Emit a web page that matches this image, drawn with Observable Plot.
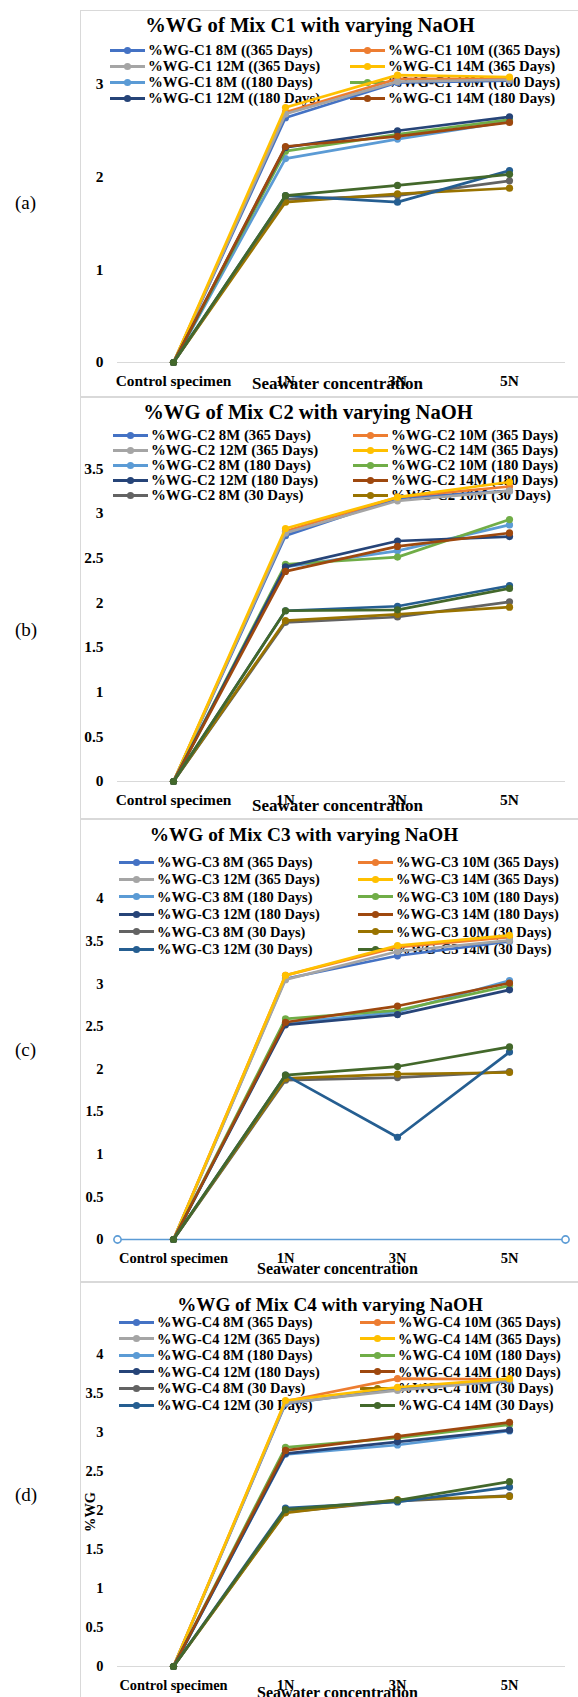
<!DOCTYPE html>
<html><head><meta charset="utf-8">
<script src="https://cdn.jsdelivr.net/npm/d3@7"></script>
<script src="https://cdn.jsdelivr.net/npm/@observablehq/plot@0.6"></script>
<style>
body{margin:0;background:#fff;width:578px;height:1697px;overflow:hidden;position:relative;font-family:"Liberation Serif","Times New Roman",serif;color:#000}
.panel{position:absolute;left:80px;width:520px;border:1px solid #d9d9d9;box-sizing:border-box;background:#fff;overflow:hidden}
.panel svg.plot{position:absolute;left:-1px;top:-1px}
.ttl{position:absolute;font-weight:bold;white-space:nowrap;transform:translate(-50%,-50%)}
.leg{position:absolute;font-weight:bold;white-space:nowrap;transform:translateY(-50%);display:flex;align-items:center}
.leg svg{flex:none;margin-right:3px}
.tag{position:absolute;left:15px;font-size:19px;transform:translateY(-50%)}
</style></head><body>
<script>
const categories = ["Control specimen", "1N", "3N", "5N"];
const seriesColors = ["#4472C4","#ED7D31","#A5A5A5","#FFC000","#5B9BD5","#70AD47","#264478","#9E480E","#636363","#997300","#255E91","#43682B"];

// Mix C1 (series order: 8M,10M,12M,14M 365d; 8M..14M 180d; 8M..14M 30d)
const labelsC1 = ["%WG-C1 8M ((365 Days)","%WG-C1 10M ((365 Days)","%WG-C1 12M ((365 Days)","%WG-C1 14M (365 Days)",
  "%WG-C1 8M ((180 Days)","%WG-C1 10M ((180 Days)","%WG-C1 12M ((180 Days)","%WG-C1 14M (180 Days)"];
const valuesC1 = [
  [0, 2.64, 3.02, 3.04], [0, 2.70, 3.06, 3.06], [0, 2.68, 3.03, 3.05], [0, 2.75, 3.10, 3.08],
  [0, 2.20, 2.41, 2.60], [0, 2.28, 2.46, 2.62], [0, 2.32, 2.50, 2.65], [0, 2.33, 2.44, 2.59],
  [0, 1.76, 1.80, 1.96], [0, 1.73, 1.82, 1.88], [0, 1.80, 1.73, 2.07], [0, 1.80, 1.91, 2.03]
];
// Mix C2
const labelsC2 = ["%WG-C2 8M (365 Days)","%WG-C2 10M (365 Days)","%WG-C2 12M (365 Days)","%WG-C2 14M (365 Days)",
  "%WG-C2 8M (180 Days)","%WG-C2 10M (180 Days)","%WG-C2 12M (180 Days)","%WG-C2 14M (180 Days)",
  "%WG-C2 8M (30 Days)","%WG-C2 10M (30 Days)"];
const valuesC2 = [
  [0, 2.75, 3.17, 3.25], [0, 2.80, 3.18, 3.30], [0, 2.78, 3.14, 3.25], [0, 2.83, 3.18, 3.35],
  [0, 2.40, 2.58, 2.87], [0, 2.43, 2.51, 2.93], [0, 2.40, 2.69, 2.74], [0, 2.35, 2.63, 2.78],
  [0, 1.78, 1.84, 2.01], [0, 1.80, 1.87, 1.95], [0, 1.91, 1.96, 2.19], [0, 1.91, 1.92, 2.16]
];
// Mix C3
const labelsC3 = ["%WG-C3 8M (365 Days)","%WG-C3 10M (365 Days)","%WG-C3 12M (365 Days)","%WG-C3 14M (365 Days)",
  "%WG-C3 8M (180 Days)","%WG-C3 10M (180 Days)","%WG-C3 12M (180 Days)","%WG-C3 14M (180 Days)",
  "%WG-C3 8M (30 Days)","%WG-C3 10M (30 Days)","%WG-C3 12M (30 Days)","%WG-C3 14M (30 Days)"];
const valuesC3 = [
  [0, 3.06, 3.33, 3.50], [0, 3.10, 3.43, 3.55], [0, 3.05, 3.38, 3.51], [0, 3.10, 3.45, 3.57],
  [0, 2.54, 2.67, 3.04], [0, 2.59, 2.69, 2.98], [0, 2.52, 2.64, 2.93], [0, 2.55, 2.74, 3.01],
  [0, 1.87, 1.90, 1.97], [0, 1.89, 1.94, 1.96], [0, 1.93, 1.20, 2.20], [0, 1.93, 2.03, 2.26]
];
// Mix C4
const labelsC4 = ["%WG-C4 8M (365 Days)","%WG-C4 10M (365 Days)","%WG-C4 12M (365 Days)","%WG-C4 14M (365 Days)",
  "%WG-C4 8M (180 Days)","%WG-C4 10M (180 Days)","%WG-C4 12M  (180 Days)","%WG-C4 14M (180 Days)",
  "%WG-C4 8M (30 Days)","%WG-C4 10M  (30 Days)","%WG-C4 12M (30 Days)","%WG-C4 14M  (30 Days)"];
const valuesC4 = [
  [0, 3.37, 3.56, 3.66], [0, 3.40, 3.69, 3.68], [0, 3.38, 3.54, 3.67], [0, 3.41, 3.58, 3.69],
  [0, 2.72, 2.84, 3.02], [0, 2.81, 2.93, 3.10], [0, 2.73, 2.88, 3.03], [0, 2.77, 2.95, 3.13],
  [0, 1.98, 2.12, 2.19], [0, 1.97, 2.14, 2.18], [0, 2.03, 2.11, 2.30], [0, 2.01, 2.13, 2.37]
];
const titles = ["%WG of Mix C1 with varying NaOH","%WG of Mix C2 with varying NaOH","%WG of Mix C3 with varying NaOH","%WG of Mix C4 with varying NaOH"];
const ticksA = [0, 1, 2, 3];
const ticksB = [0, 0.5, 1, 1.5, 2, 2.5, 3, 3.5];
const ticksCD = [0, 0.5, 1, 1.5, 2, 2.5, 3, 3.5, 4];
const xTitle = "Seawater concentration";
const yTitle = "%WG";
const tags = ["(a)", "(b)", "(c)", "(d)"];

// layout
const panels = [
  {tag: 203, top: 10, height: 385, mt: 27.55, mb: 33, ymax: 3.5, ticks: ticksA, fs: 15.4, legFs: 14.8, tFs: 20.6, aFs: 17,
   tcx: 230, tcy: 15, lx: 30, rx: 270, ly: 40, lsp: 16, aDy: 21, labels: labelsC1, values: valuesC1, zero: "gray"},
  {tag: 630, top: 397, height: 420, mt: 26.4, mb: 36, ymax: 4, ticks: ticksB, fs: 15.4, legFs: 14.8, tFs: 20.6, aFs: 17,
   tcx: 228, tcy: 15, lx: 33, rx: 273, ly: 38, lsp: 15, aDy: 24, labels: labelsC2, values: valuesC2, zero: "gray"},
  {tag: 1050, top: 819, height: 461, mt: 36.6, mb: 41, ymax: 4.5, ticks: ticksCD, fs: 14.5, legFs: 14.4, tFs: 19.3, aFs: 16,
   tcx: 224, tcy: 16, lx: 39, rx: 278, ly: 43, lsp: 17.4, aDy: 29, labels: labelsC3, values: valuesC3, zero: "blue"},
  {tag: 1495, top: 1282, height: 415, mt: 33, mb: 31, ymax: 4.5, ticks: ticksCD, fs: 14.4, legFs: 14.4, tFs: 19.1, aFs: 16,
   tcx: 250, tcy: 23, lx: 39, rx: 280, ly: 40, lsp: 16.6, aDy: 26, labels: labelsC4, values: valuesC4, zero: "gray", ylab: true}
];

panels.forEach((cfg, p) => {
  const tag = document.createElement("div");
  tag.className = "tag"; tag.style.top = cfg.tag + "px"; tag.textContent = tags[p];
  document.body.appendChild(tag);

  const div = document.createElement("div");
  div.className = "panel";
  div.style.top = cfg.top + "px";
  div.style.height = (cfg.height + 2) + "px";
  document.body.appendChild(div);

  // legend (under the plot lines)
  cfg.labels.forEach((lab, i) => {
    const row = Math.floor(i / 2), col = i % 2;
    const it = document.createElement("div");
    it.className = "leg";
    it.style.left = ((col ? cfg.rx : cfg.lx) - 1) + "px";
    it.style.top = (cfg.ly + row * cfg.lsp - 1) + "px";
    it.style.fontSize = cfg.legFs + "px";
    const c = seriesColors[i];
    it.innerHTML = `<svg width="35" height="10"><line x1="0" y1="5" x2="35" y2="5" stroke="${c}" stroke-width="3"/><circle cx="17.5" cy="5" r="3.6" fill="${c}"/></svg><span>${lab}</span>`;
    div.appendChild(it);
  });

  const rows = [];
  cfg.values.forEach((vals, s) => vals.forEach((v, i) => rows.push({s, cat: categories[i], v})));

  const marks = [];
  if (cfg.zero === "blue") {
    marks.push(Plot.ruleY([0], {stroke: "#5B9BD5", strokeWidth: 1.6}));
  } else {
    marks.push(Plot.ruleY([0], {stroke: "#d9d9d9", strokeWidth: 1}));
  }
  cfg.values.forEach((vals, s) => {
    const d = rows.filter(r => r.s === s);
    marks.push(Plot.line(d, {x: "cat", y: "v", stroke: seriesColors[s], strokeWidth: 2.7}));
    marks.push(Plot.dot(d, {x: "cat", y: "v", fill: seriesColors[s], r: 3.6}));
  });
  if (cfg.zero === "blue") {
    marks.push(Plot.dot([0], {y: d => d, frameAnchor: "left", r: 3.6, stroke: "#5B9BD5", strokeWidth: 1.6, fill: "#fff"}));
    marks.push(Plot.dot([0], {y: d => d, frameAnchor: "right", r: 3.6, stroke: "#5B9BD5", strokeWidth: 1.6, fill: "#fff"}));
  }
  marks.push(Plot.axisY({ticks: cfg.ticks, tickSize: 0, tickPadding: 14, tickFormat: d => String(d), label: null, fontSize: cfg.fs, fontWeight: "bold"}));
  marks.push(Plot.axisX({tickSize: 0, tickPadding: 13, label: null, fontSize: cfg.fs, fontWeight: "bold"}));
  marks.push(Plot.text([xTitle], {text: d => d, frameAnchor: "bottom", textAnchor: "middle", lineAnchor: "middle", dy: cfg.aDy, dx: -4, fontSize: cfg.aFs, fontWeight: "bold", fill: "#000"}));
  if (cfg.ylab) {
    marks.push(Plot.text([yTitle], {text: d => d, frameAnchor: "left", textAnchor: "middle", lineAnchor: "middle", dx: -27, dy: 21, rotate: -90, fontSize: cfg.fs, fontWeight: "bold", fill: "#000"}));
  }

  const svg = Plot.plot({
    width: 498, height: cfg.height,
    marginLeft: 37, marginRight: 13, marginTop: cfg.mt, marginBottom: cfg.mb,
    x: {type: "point", domain: categories, padding: 0.5},
    y: {domain: [0, cfg.ymax]},
    style: {fontFamily: "'Liberation Serif', 'Times New Roman', serif", fontSize: cfg.fs + "px", fontWeight: "bold", color: "#000", background: "transparent", overflow: "visible"},
    marks
  });
  svg.classList.add("plot");
  div.appendChild(svg);

  const t = document.createElement("div");
  t.className = "ttl";
  t.style.left = (cfg.tcx - 1) + "px";
  t.style.top = (cfg.tcy - 1) + "px";
  t.style.fontSize = cfg.tFs + "px";
  t.textContent = titles[p];
  div.appendChild(t);
});
</script>
</body></html>
